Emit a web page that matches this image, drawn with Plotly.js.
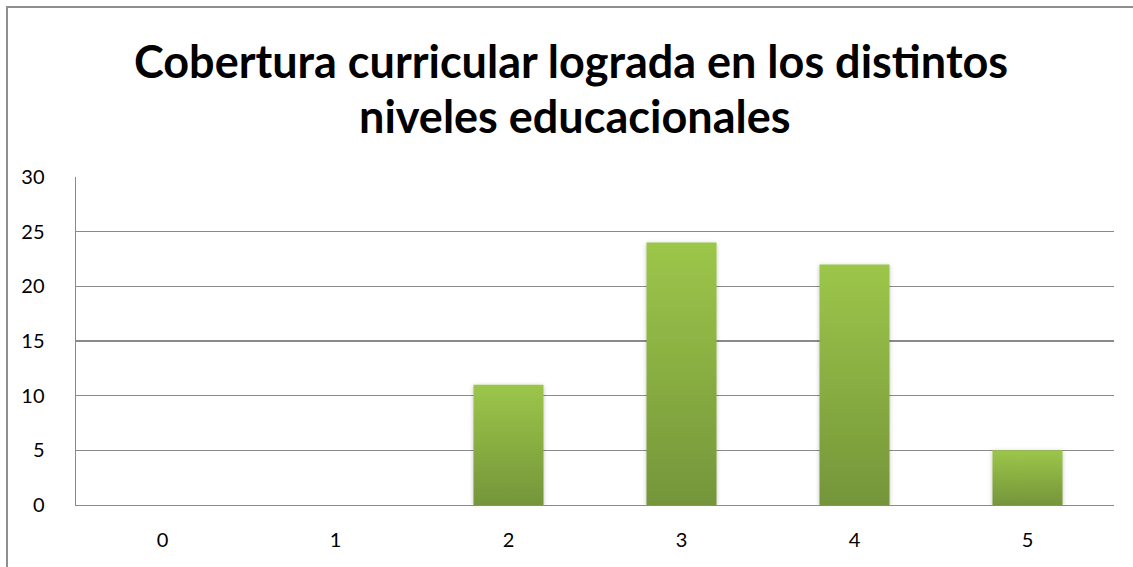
<!DOCTYPE html>
<html>
<head>
<meta charset="utf-8">
<script src="https://cdn.plot.ly/plotly-3.0.1.min.js"></script>
<style>
  html, body { margin:0; padding:0; background:#fff; overflow:hidden; }
  #wrap { position:relative; width:1133px; height:567px; }
  #chart { position:absolute; left:0; top:0; width:1133px; height:567px; }
  #frame { position:absolute; left:6px; top:6px; width:1200px; height:600px;
           border-left:2px solid #8f8f8f; border-top:2px solid #8f8f8f; pointer-events:none; }
</style>
</head>
<body>
<div id="wrap">
  <div id="chart"></div>
  <div id="frame"></div>
</div>
<script>
const categories = ["0", "1", "2", "3", "4", "5"];
const values = [0, 0, 11, 24, 22, 5];
const yTickValues = [0, 5, 10, 15, 20, 25, 30];
const titleLine1 = "Cobertura curricular lograda en los distintos";
const titleLine2 = "niveles educacionales";

const font = "Lato, 'Open Sans', sans-serif";
const gridColor = "#8a8a8a";

const trace = {
  type: "bar",
  x: categories,
  y: values,
  marker: { color: "#8aae42", line: { width: 0 } },
  hoverinfo: "x+y"
};

const layout = {
  width: 1133,
  height: 567,
  margin: { l: 76, r: 19, t: 177, b: 62, pad: 0 },
  paper_bgcolor: "#ffffff",
  plot_bgcolor: "#ffffff",
  showlegend: false,
  bargap: 0.595,
  title: {
    text: titleLine1,
    font: { family: font, size: 45, color: "#000000", weight: "bold" },
    x: 0.504, xanchor: "center",
    y: 0.862, yanchor: "bottom"
  },
  annotations: [{
    text: titleLine2,
    xref: "paper", yref: "paper",
    x: 0.48, xanchor: "center",
    y: 1.098, yanchor: "bottom",
    showarrow: false,
    font: { family: font, size: 45, color: "#000000", weight: "bold" }
  }],
  xaxis: {
    type: "category",
    showgrid: false,
    showline: true,
    linecolor: gridColor,
    linewidth: 1.3,
    ticks: "",
    ticklabelstandoff: 17,
    tickfont: { family: font, size: 20, color: "#000000" },
    fixedrange: true
  },
  yaxis: {
    range: [0, 30],
    tickvals: yTickValues,
    showgrid: true,
    gridcolor: gridColor,
    gridwidth: 1.5,
    zeroline: false,
    showline: true,
    linecolor: gridColor,
    linewidth: 1.5,
    ticks: "",
    ticklabelstandoff: 26,
    tickfont: { family: font, size: 20, color: "#000000" },
    fixedrange: true
  }
};

Plotly.newPlot("chart", [trace], layout, { displayModeBar: false, staticPlot: true }).then(function (gd) {
  const svg = gd.querySelector("svg.main-svg");
  const ns = "http://www.w3.org/2000/svg";
  let defs = svg.querySelector("defs");
  if (!defs) { defs = document.createElementNS(ns, "defs"); svg.insertBefore(defs, svg.firstChild); }
  const grad = document.createElementNS(ns, "linearGradient");
  grad.setAttribute("id", "barGrad");
  grad.setAttribute("x1", "0"); grad.setAttribute("y1", "0");
  grad.setAttribute("x2", "0"); grad.setAttribute("y2", "1");
  [["0%", "#9cc64a"], ["100%", "#75953a"]].forEach(function (s) {
    const st = document.createElementNS(ns, "stop");
    st.setAttribute("offset", s[0]); st.setAttribute("stop-color", s[1]);
    grad.appendChild(st);
  });
  defs.appendChild(grad);
  const filt = document.createElementNS(ns, "filter");
  filt.setAttribute("id", "barShadow");
  filt.setAttribute("x", "-20%"); filt.setAttribute("y", "-20%");
  filt.setAttribute("width", "140%"); filt.setAttribute("height", "140%");
  const ds = document.createElementNS(ns, "feDropShadow");
  ds.setAttribute("dx", "0"); ds.setAttribute("dy", "1");
  ds.setAttribute("stdDeviation", "2"); ds.setAttribute("flood-color", "#000");
  ds.setAttribute("flood-opacity", "0.25");
  filt.appendChild(ds);
  defs.appendChild(filt);
  gd.querySelectorAll(".barlayer .point path").forEach(function (p) {
    p.style.fill = "url(#barGrad)";
    p.style.filter = "url(#barShadow)";
  });
});
</script>
</body>
</html>
